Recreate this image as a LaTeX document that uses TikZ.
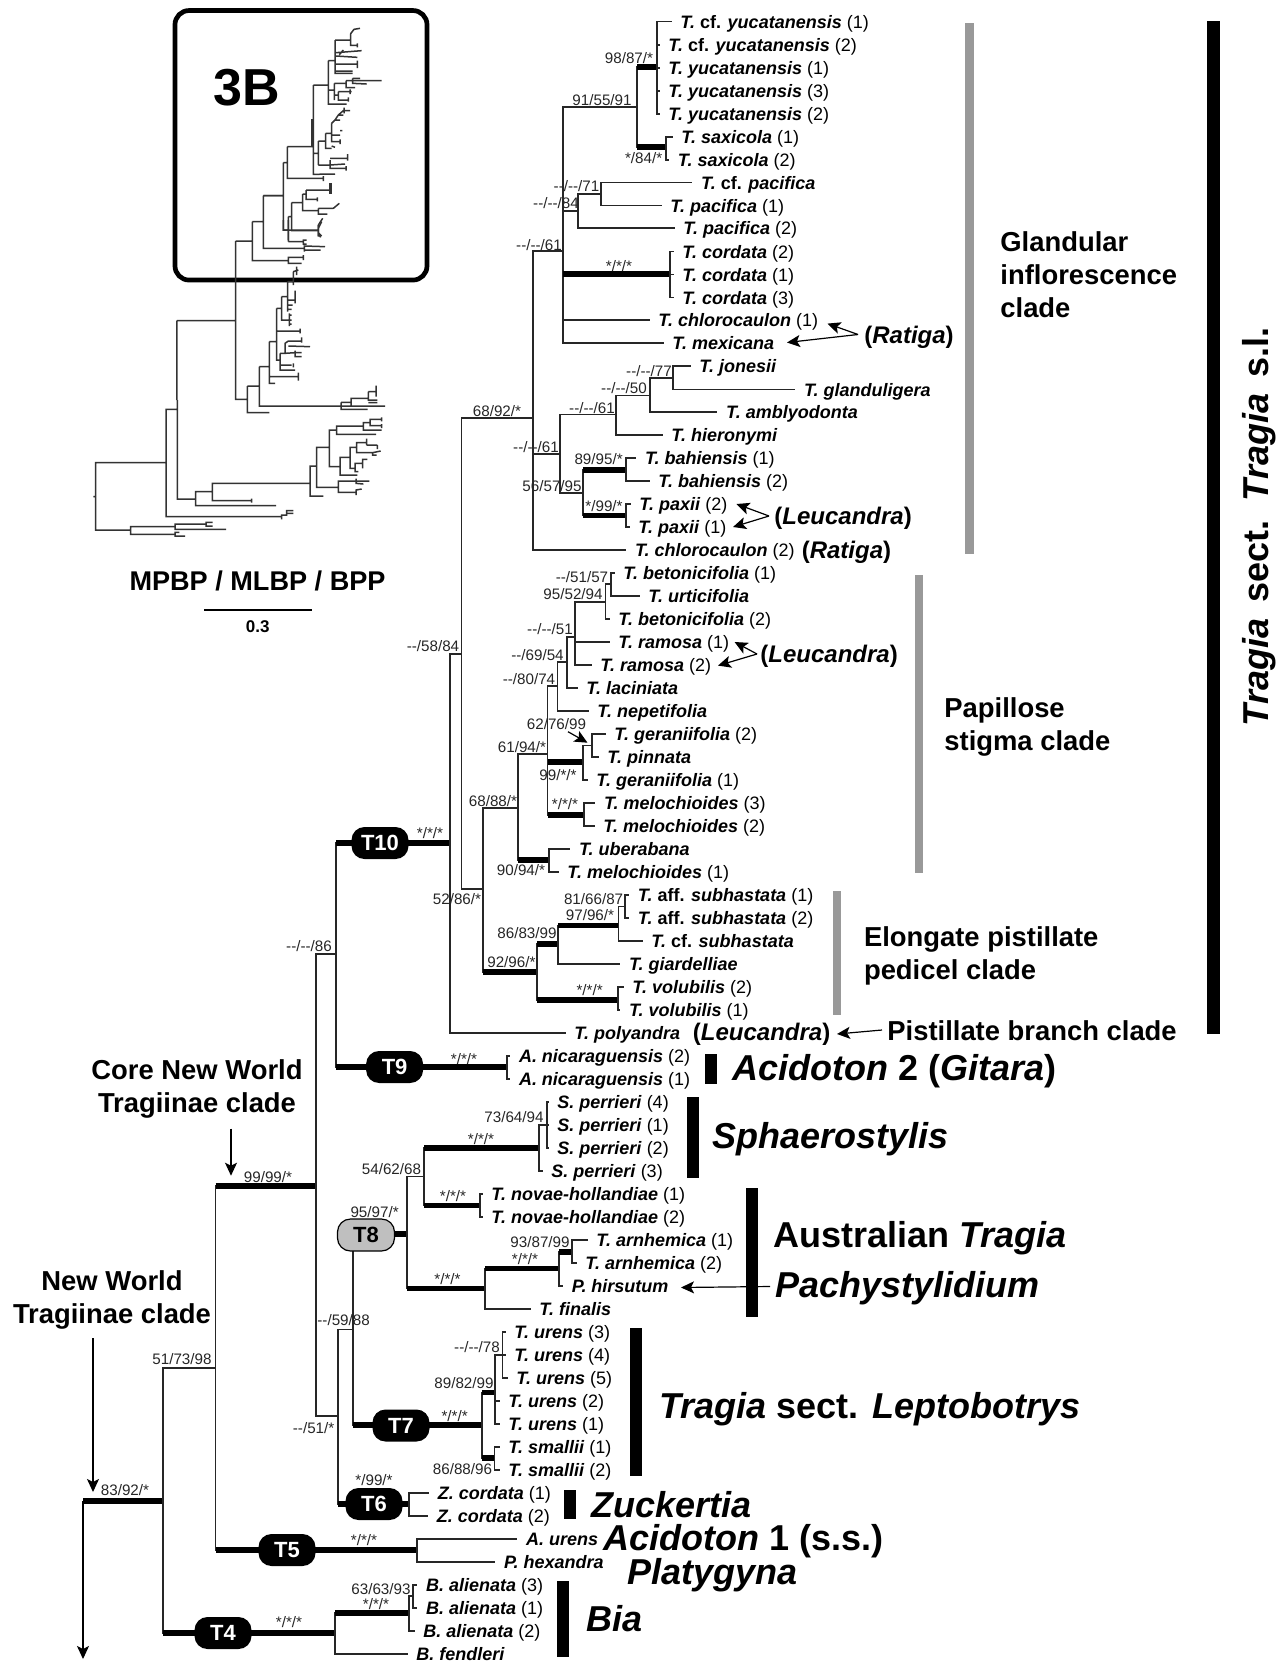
\documentclass[tikz,border=0pt]{standalone}
\usepackage{fontspec}
\setmainfont{Liberation Sans}
\usetikzlibrary{arrows.meta,positioning}
\newcommand{\tx}[1]{\textbf{\textit{#1}}}
\newcommand{\dd}{-{}-}
\newcommand{\thk}[2]{\draw[branch] (#1) -- (#1 |- #2); \draw[boldbranch] (#1 |- #2) -- (#2);}
\tikzset{
	branch/.style={line width=.7pt,black!85,line cap=rect,to path={|- (\tikztotarget)}},
	boldbranch/.style={line width=2.6pt,black},
	inset/.style={line width=.75pt,black!80},
	taxon/.style={anchor=west,inner xsep=4.5pt,inner ysep=0pt,text height=6.5pt,text depth=0pt,font=\fontsize{9}{10}\selectfont},
	supp/.style={inner sep=0pt,text height=5.5pt,text depth=0pt,text=black!85,font=\fontsize{7.6}{9}\selectfont},
	pill/.style={rounded corners=6.5pt,minimum width=28.5pt,minimum height=16pt,inner sep=0pt,fill=black,text=white,font=\bfseries\fontsize{11}{12}\selectfont},
	biglab/.style={anchor=west,inner sep=0pt,text height=11pt,text depth=0pt,font=\bfseries\fontsize{18}{20}\selectfont},
	genus/.style={anchor=west,inner sep=0pt,text height=8.6pt,text depth=0pt,font=\bfseries\fontsize{12}{14}\selectfont},
	clade/.style={inner sep=0pt,align=left,font=\bfseries\fontsize{13.7}{16.5}\selectfont},
	pointer/.style={-{Stealth[length=6.5pt,width=6pt,inset=1.5pt]},line width=.6pt,black}
}
\begin{document}
\begin{tikzpicture}[x=.5pt,y=-.5pt]
\useasboundingbox (0,0) rectangle (1282,1661);
% taxa
\node[taxon] (t01) at (671,21.5) {\tx{T.} \textbf{cf.} \tx{yucatanensis} (1)};
\node[taxon] (t02) at (659,45) {\tx{T.} \textbf{cf.} \tx{yucatanensis} (2)};
\node[taxon] (t03) at (659,68) {\tx{T. yucatanensis} (1)};
\node[taxon] (t04) at (659,91) {\tx{T. yucatanensis} (3)};
\node[taxon] (t05) at (659,114) {\tx{T. yucatanensis} (2)};
\node[taxon] (t06) at (672,137) {\tx{T. saxicola} (1)};
\node[taxon] (t07) at (668.5,160) {\tx{T. saxicola} (2)};
\node[taxon] (t08) at (691.7,182.5) {\tx{T.} \textbf{cf.} \tx{pacifica}};
\node[taxon] (t09) at (661,205.5) {\tx{T. pacifica} (1)};
\node[taxon] (t10) at (674,228) {\tx{T. pacifica} (2)};
\node[taxon] (t11) at (673,251.5) {\tx{T. cordata} (2)};
\node[taxon] (t12) at (673,274.5) {\tx{T. cordata} (1)};
\node[taxon] (t13) at (673,297.5) {\tx{T. cordata} (3)};
\node[taxon] (t14) at (649,320) {\tx{T. chlorocaulon} (1)};
\node[taxon] (t15) at (663,343) {\tx{T. mexicana}};
\node[taxon] (t16) at (690,366) {\tx{T. jonesii}};
\node[taxon] (t17) at (794.6,389.5) {\tx{T. glanduligera}};
\node[taxon] (t18) at (716.7,412) {\tx{T. amblyodonta}};
\node[taxon] (t19) at (662,435) {\tx{T. hieronymi}};
\node[taxon] (t20) at (635.6,458) {\tx{T. bahiensis} (1)};
\node[taxon] (t21) at (649,481) {\tx{T. bahiensis} (2)};
\node[taxon] (t22) at (630,504) {\tx{T. paxii} (2)};
\node[taxon] (t23) at (629,527) {\tx{T. paxii} (1)};
\node[taxon] (t24) at (625.6,550) {\tx{T. chlorocaulon} (2)};
\node[taxon] (t25) at (614,573) {\tx{T. betonicifolia} (1)};
\node[taxon] (t26) at (639,596) {\tx{T. urticifolia}};
\node[taxon] (t27) at (609,619) {\tx{T. betonicifolia} (2)};
\node[taxon] (t28) at (609,642) {\tx{T. ramosa} (1)};
\node[taxon] (t29) at (591,665) {\tx{T. ramosa} (2)};
\node[taxon] (t30) at (577,688) {\tx{T. laciniata}};
\node[taxon] (t31) at (588,711) {\tx{T. nepetifolia}};
\node[taxon] (t32) at (605,734) {\tx{T. geraniifolia} (2)};
\node[taxon] (t33) at (598,757) {\tx{T. pinnata}};
\node[taxon] (t34) at (587,780) {\tx{T. geraniifolia} (1)};
\node[taxon] (t35) at (594.6,803) {\tx{T. melochioides} (3)};
\node[taxon] (t36) at (594,826) {\tx{T. melochioides} (2)};
\node[taxon] (t37) at (569.6,849) {\tx{T. uberabana}};
\node[taxon] (t38) at (558,872) {\tx{T. melochioides} (1)};
\node[taxon] (t39) at (628.5,895) {\tx{T.} \textbf{aff.} \tx{subhastata} (1)};
\node[taxon] (t40) at (628.5,918) {\tx{T.} \textbf{aff.} \tx{subhastata} (2)};
\node[taxon] (t41) at (642,941) {\tx{T.} \textbf{cf.} \tx{subhastata}};
\node[taxon] (t42) at (619.6,964) {\tx{T. giardelliae}};
\node[taxon] (t43) at (623,987) {\tx{T. volubilis} (2)};
\node[taxon] (t44) at (619.6,1010) {\tx{T. volubilis} (1)};
\node[taxon] (t45) at (565,1033) {\tx{T. polyandra}};
\node[taxon] (t46) at (509.6,1056) {\tx{A. nicaraguensis} (2)};
\node[taxon] (t47) at (509.6,1079) {\tx{A. nicaraguensis} (1)};
\node[taxon] (t48) at (548,1102) {\tx{S. perrieri} (4)};
\node[taxon] (t49) at (548,1125) {\tx{S. perrieri} (1)};
\node[taxon] (t50) at (548,1148) {\tx{S. perrieri} (2)};
\node[taxon] (t51) at (542,1171) {\tx{S. perrieri} (3)};
\node[taxon] (t52) at (482,1194) {\tx{T. novae-hollandiae} (1)};
\node[taxon] (t53) at (482,1217) {\tx{T. novae-hollandiae} (2)};
\node[taxon] (t54) at (587,1240) {\tx{T. arnhemica} (1)};
\node[taxon] (t55) at (576,1263) {\tx{T. arnhemica} (2)};
\node[taxon] (t56) at (562.4,1286) {\tx{P. hirsutum}};
\node[taxon] (t57) at (530,1309) {\tx{T. finalis}};
\node[taxon] (t58) at (505,1332) {\tx{T. urens} (3)};
\node[taxon] (t59) at (505,1355) {\tx{T. urens} (4)};
\node[taxon] (t60) at (507,1378) {\tx{T. urens} (5)};
\node[taxon] (t61) at (499,1401) {\tx{T. urens} (2)};
\node[taxon] (t62) at (499,1424) {\tx{T. urens} (1)};
\node[taxon] (t63) at (499,1447) {\tx{T. smallii} (1)};
\node[taxon] (t64) at (499,1470) {\tx{T. smallii} (2)};
\node[taxon] (t65) at (428.5,1493) {\tx{Z. cordata} (1)};
\node[taxon] (t66) at (427.4,1516) {\tx{Z. cordata} (2)};
\node[taxon] (t67) at (516.7,1539) {\tx{A. urens}};
\node[taxon] (t68) at (494.6,1562) {\tx{P. hexandra}};
\node[taxon] (t69) at (416.7,1585) {\tx{B. alienata} (3)};
\node[taxon] (t70) at (416.7,1608) {\tx{B. alienata} (1)};
\node[taxon] (t71) at (414,1631) {\tx{B. alienata} (2)};
\node[taxon] (t72) at (407,1654) {\tx{B. fendleri}};
% internal branch points
\coordinate (nRoot) at (83,1501);
\coordinate (cDown) at (83,1659);
\coordinate (nOne) at (163,1501);
\coordinate (nWorld) at (215.7,1368);
\coordinate (nCore) at (316,1186);
\coordinate (nUp) at (336,954);
\coordinate (nTten) at (450,843);
\coordinate (nA) at (461.4,654);
\coordinate (nGland) at (533,418);
\coordinate (nPa) at (563,251);
\coordinate (nB91) at (637,107);
\coordinate (nYuc) at (657,67);
\coordinate (nSax) at (666,147);
\coordinate (nPac) at (578,211);
\coordinate (nPacb) at (601,194);
\coordinate (nCord) at (670,274);
\coordinate (nPb) at (560,454);
\coordinate (nJa) at (616,414.5);
\coordinate (nJb) at (650,395.6);
\coordinate (nJc) at (673,378);
\coordinate (nBP) at (583,493);
\coordinate (nBah) at (626,470);
\coordinate (nPax) at (626,515.6);
\coordinate (nB) at (483,889);
\coordinate (nPap) at (518,808);
\coordinate (nGa) at (547.5,754);
\coordinate (nGb) at (557.5,686);
\coordinate (nGc) at (567,662);
\coordinate (nGd) at (575,637);
\coordinate (nGe) at (605.7,602);
\coordinate (nGf) at (611,584);
\coordinate (nGer) at (583,762);
\coordinate (nGerb) at (592,745.7);
\coordinate (nMel) at (584,815);
\coordinate (nUb) at (549,860);
\coordinate (nEl) at (537,972);
\coordinate (nEa) at (558,944);
\coordinate (nEb) at (618.6,925.7);
\coordinate (nEc) at (625,906.7);
\coordinate (nVol) at (618,1000);
\coordinate (nTnine) at (507,1067);
\coordinate (nLow) at (338,1416);
\coordinate (nNext) at (353,1329.5);
\coordinate (nTeight) at (407,1234);
\coordinate (nAu) at (424,1176.6);
\coordinate (nSph) at (539,1148);
\coordinate (nSpb) at (547,1125);
\coordinate (nNov) at (480,1205.5);
\coordinate (nPch) at (485,1288.7);
\coordinate (nPcb) at (559,1268.5);
\coordinate (nArn) at (572,1252);
\coordinate (nTseven) at (482,1425);
\coordinate (nUr) at (495,1392.5);
\coordinate (nUrb) at (502.5,1355);
\coordinate (nSm) at (494.6,1458);
\coordinate (nTsix) at (409,1504);
\coordinate (nTfive) at (417,1550);
\coordinate (nTfour) at (335,1633);
\coordinate (nAl) at (409,1613);
\coordinate (nAlb) at (413,1596);
% branches
\thk{nRoot}{nOne}
\thk{nWorld}{nCore}
\thk{nWorld}{nTfive}
\thk{nOne}{nTfour}
\draw[branch] (nOne) edge (nWorld);
\draw[branch] (nCore) edge (nUp) edge (nLow);
\thk{nUp}{nTten}
\thk{nUp}{nTnine}
\draw[branch] (nTten) edge (nA) edge (t45.west);
\draw[branch] (nA) edge (nGland) edge (nB);
\draw[branch] (nGland) edge (nPa) edge (nPb) edge (t24.west);
\draw[branch] (nPa) edge (nB91) edge (nPac) edge (t14.west) edge (t15.west);
\thk{nPa}{nCord}
\thk{nB91}{nYuc}
\thk{nB91}{nSax}
\draw[branch] (nYuc) edge (t01.west) edge (t02.west) edge (t03.west) edge (t04.west) edge (t05.west);
\draw[branch] (nSax) edge (t06.west) edge (t07.west);
\draw[branch] (nPac) edge (nPacb) edge (t10.west);
\draw[branch] (nPacb) edge (t08.west) edge (t09.west);
\draw[branch] (nCord) edge (t11.west) edge (t12.west) edge (t13.west);
\draw[branch] (nPb) edge (nJa) edge (nBP);
\draw[branch] (nJa) edge (nJb) edge (t19.west);
\draw[branch] (nJb) edge (nJc) edge (t18.west);
\draw[branch] (nJc) edge (t16.west) edge (t17.west);
\thk{nBP}{nBah}
\thk{nBP}{nPax}
\draw[branch] (nBah) edge (t20.west) edge (t21.west);
\draw[branch] (nPax) edge (t22.west) edge (t23.west);
\draw[branch] (nB) edge (nPap);
\thk{nB}{nEl}
\draw[branch] (nPap) edge (nGa);
\thk{nPap}{nUb}
\draw[branch] (nGa) edge (nGb);
\thk{nGa}{nGer}
\thk{nGa}{nMel}
\draw[branch] (nGb) edge (nGc) edge (t31.west);
\draw[branch] (nGc) edge (nGd) edge (t30.west);
\draw[branch] (nGd) edge (nGe) edge (t28.west) edge (t29.west);
\draw[branch] (nGe) edge (nGf) edge (t27.west);
\draw[branch] (nGf) edge (t25.west) edge (t26.west);
\draw[branch] (nGer) edge (nGerb) edge (t34.west);
\draw[branch] (nGerb) edge (t32.west) edge (t33.west);
\draw[branch] (nMel) edge (t35.west) edge (t36.west);
\draw[branch] (nUb) edge (t37.west) edge (t38.west);
\thk{nEl}{nEa}
\thk{nEl}{nVol}
\thk{nEa}{nEb}
\draw[branch] (nEa) edge (t42.west);
\draw[branch] (nEb) edge (nEc) edge (t41.west);
\draw[branch] (nEc) edge (t39.west) edge (t40.west);
\draw[branch] (nVol) edge (t43.west) edge (t44.west);
\draw[branch] (nTnine) edge (t46.west) edge (t47.west);
\draw[branch] (nLow) edge (nNext);
\thk{nLow}{nTsix}
\thk{nNext}{nTeight}
\thk{nNext}{nTseven}
\draw[branch] (nTeight) edge (nAu);
\thk{nTeight}{nPch}
\thk{nAu}{nSph}
\thk{nAu}{nNov}
\draw[branch] (nSph) edge (nSpb) edge (t51.west);
\draw[branch] (nSpb) edge (t48.west) edge (t49.west) edge (t50.west);
\draw[branch] (nNov) edge (t52.west) edge (t53.west);
\thk{nPch}{nPcb}
\draw[branch] (nPch) edge (t57.west);
\thk{nPcb}{nArn}
\draw[branch] (nPcb) edge (t56.west);
\draw[branch] (nArn) edge (t54.west) edge (t55.west);
\thk{nTseven}{nUr}
\thk{nTseven}{nSm}
\draw[branch] (nUr) edge (nUrb) edge (t61.west) edge (t62.west);
\draw[branch] (nUrb) edge (t58.west) edge (t59.west) edge (t60.west);
\draw[branch] (nSm) edge (t63.west) edge (t64.west);
\draw[branch] (nTsix) edge (t65.west) edge (t66.west);
\draw[branch] (nTfive) edge (t67.west) edge (t68.west);
\thk{nTfour}{nAl}
\draw[branch] (nTfour) edge (t72.west);
\draw[branch] (nAl) edge (nAlb) edge (t71.west);
\draw[branch] (nAlb) edge (t69.west) edge (t70.west);
% clade pills
\node[pill] (pTten) at (380,843) {T10};
\node[pill] (pTnine) at (394.6,1067) {T9};
\node[pill,fill=black!25,draw=black,line width=.6pt,text=black] (pTeight) at (366,1235) {T8};
\node[pill] (pTseven) at (401,1425.5) {T7};
\node[pill] (pTsix) at (374,1504) {T6};
\node[pill] (pTfive) at (287,1550) {T5};
\node[pill] (pTfour) at (223,1633) {T4};
% support values
\node[supp] (s01) at (629,58) {98/87/*};
\node[supp] (s02) at (602,100) {91/55/91};
\node[supp] (s03) at (643.6,158) {*/84/*};
\node[supp] (s04) at (576.5,185.5) {\dd/\dd/71};
\node[supp] (s05) at (556,203) {\dd/\dd/84};
\node[supp] (s06) at (539,245) {\dd/\dd/61};
\node[supp] (s07) at (619,265.5) {*/*/*};
\node[supp] (s08) at (497,411) {68/92/*};
\node[supp] (s09) at (649,371) {\dd/\dd/77};
\node[supp] (s10) at (624,388) {\dd/\dd/50};
\node[supp] (s11) at (592,408) {\dd/\dd/61};
\node[supp] (s12) at (536,446.5) {\dd/\dd/61};
\node[supp] (s13) at (598.6,459) {89/95/*};
\node[supp] (s14) at (552,485.5) {56/57/95};
\node[supp] (s15) at (604,505.5) {*/99/*};
\node[supp] (s16) at (433,646) {\dd/58/84};
\node[supp] (s17) at (582,577) {\dd/51/57};
\node[supp] (s18) at (573,594) {95/52/94};
\node[supp] (s19) at (550,629) {\dd/\dd/51};
\node[supp] (s20) at (537.5,655) {\dd/69/54};
\node[supp] (s21) at (529,679) {\dd/80/74};
\node[supp] (s22) at (556.5,724) {62/76/99};
\node[supp] (s23) at (522,747) {61/94/*};
\node[supp] (s24) at (558,775) {99/*/*};
\node[supp] (s25) at (565,804) {*/*/*};
\node[supp] (s26) at (493,801) {68/88/*};
\node[supp] (s27) at (430,833) {*/*/*};
\node[supp] (s28) at (521,870) {90/94/*};
\node[supp] (s29) at (457,899) {52/86/*};
\node[supp] (s30) at (593.6,899) {81/66/87};
\node[supp] (s31) at (590,915) {97/96/*};
\node[supp] (s32) at (527,933) {86/83/99};
\node[supp] (s33) at (511.4,962) {92/96/*};
\node[supp] (s34) at (589.6,990) {*/*/*};
\node[supp] (s35) at (309,946) {\dd/\dd/86};
\node[supp] (s36) at (464,1058.6) {*/*/*};
\node[supp] (s37) at (514,1117) {73/64/94};
\node[supp] (s38) at (481,1139) {*/*/*};
\node[supp] (s39) at (391.5,1168.7) {54/62/68};
\node[supp] (s40) at (453,1196.4) {*/*/*};
\node[supp] (s41) at (374.6,1212) {95/97/*};
\node[supp] (s42) at (540,1242) {93/87/99};
\node[supp] (s43) at (525,1259) {*/*/*};
\node[supp] (s44) at (447.5,1279) {*/*/*};
\node[supp] (s45) at (343.6,1320) {\dd/59/88};
\node[supp] (s46) at (477,1347) {\dd/\dd/78};
\node[supp] (s47) at (464,1383) {89/82/99};
\node[supp] (s48) at (454.6,1416) {*/*/*};
\node[supp] (s49) at (313.6,1428) {\dd/51/*};
\node[supp] (s50) at (462.5,1469) {86/88/96};
\node[supp] (s51) at (374,1480) {*/99/*};
\node[supp] (s52) at (364,1540) {*/*/*};
\node[supp] (s53) at (381,1589) {63/63/93};
\node[supp] (s54) at (376,1604) {*/*/*};
\node[supp] (s55) at (289,1622) {*/*/*};
\node[supp] (s56) at (268,1177) {99/99/*};
\node[supp] (s57) at (182,1359) {51/73/98};
\node[supp] (s58) at (125,1490) {83/92/*};
% bars at the side
\fill[black!40] (965,23) rectangle (974,554);
\fill[black!40] (914.5,574.5) rectangle (923,873);
\fill[black!40] (832.6,891) rectangle (841,1015);
\fill[black] (1207.4,21.4) rectangle (1220,1033.5);
\fill[black] (704.8,1053.5) rectangle (716.6,1084);
\fill[black] (687,1096.5) rectangle (698.6,1178);
\fill[black] (745.7,1187.5) rectangle (757.6,1316.5);
\fill[black] (630,1328) rectangle (642,1475.6);
\fill[black] (563.6,1489.5) rectangle (575.7,1519);
\fill[black] (557,1580.6) rectangle (568.6,1657);
% names of the groups
\node[clade,anchor=west] (gGland) at (1000,274.5) {Glandular\\inflorescence\\clade};
\node[clade,anchor=west] (gPap) at (944,727) {Papillose\\stigma clade};
\node[clade,anchor=west] (gElon) at (863.6,956) {Elongate pistillate\\pedicel clade};
\node[clade,anchor=west,text height=10pt,text depth=0pt] (gBranch) at (887,1030) {Pistillate branch clade};
\node[clade,align=center] (gCore) at (197,1088.5) {Core New World\\Tragiinae clade};
\node[clade,align=center] (gWorld) at (112,1299.5) {New World\\Tragiinae clade};
\node[biglab] (lAcb) at (732,1069) {\textit{Acidoton} 2 (\textit{Gitara})};
\node[biglab] (lSph) at (712.5,1137.5) {\textit{Sphaerostylis}};
\node[biglab] (lAus) at (773,1236) {Australian \textit{Tragia}};
\node[biglab] (lPch) at (775,1286.5) {\textit{Pachystylidium}};
\node[biglab] (lLep) at (659,1407.5) {\textit{Tragia} sect. \textit{Leptobotrys}};
\node[biglab] (lZuc) at (591,1506.5) {\textit{Zuckertia}};
\node[biglab] (lAca) at (603,1539.5) {\textit{Acidoton} 1 (s.s.)};
\node[biglab] (lPla) at (627.5,1573) {\textit{Platygyna}};
\node[biglab] (lBia) at (585.7,1620) {\textit{Bia}};
\node[genus] (lRata) at (864,334.5) {(\textit{Ratiga})};
\node[genus] (lLeua) at (774,516) {(\textit{Leucandra})};
\node[genus] (lRatb) at (801.4,550) {(\textit{Ratiga})};
\node[genus] (lLeub) at (760,654) {(\textit{Leucandra})};
\node[genus] (lLeuc) at (692.5,1032) {(\textit{Leucandra})};
\node[inner sep=0pt,rotate=90,font=\bfseries\fontsize{18}{20}\selectfont] (lSect) at (1259,527) {\textit{Tragia}\, sect.\, \textit{Tragia}\, s.l.};
% arrows
\coordinate (aRata) at (827.5,323.6);
\coordinate (aRatb) at (787,342.5);
\coordinate (aLeua) at (736.5,504);
\coordinate (aLeub) at (733,527);
\coordinate (aLeuc) at (734.6,642);
\coordinate (aLeud) at (718,665.6);
\coordinate (aGer) at (587.5,742.7);
\coordinate (aGerb) at (568,731.7);
\coordinate (aPist) at (837,1034);
\coordinate (aPch) at (681,1287.5);
\coordinate (aCore) at (231,1175.7);
\coordinate (aCoreb) at (231,1128.6);
\coordinate (aWorld) at (93,1492);
\coordinate (aWorldb) at (93,1338);
\draw[pointer] ([xshift=-3pt]lRata.west) -- (aRata);
\draw[pointer] ([xshift=-3pt]lRata.west) -- (aRatb);
\draw[pointer] ([xshift=-2.5pt]lLeua.west) -- (aLeua);
\draw[pointer] ([xshift=-2.5pt]lLeua.west) -- (aLeub);
\draw[pointer] ([xshift=-1.5pt]lLeub.west) -- (aLeuc);
\draw[pointer] ([xshift=-1.5pt]lLeub.west) -- (aLeud);
\draw[pointer] (aGerb) -- (aGer);
\draw[pointer] ([xshift=-2.5pt]gBranch.west) -- (aPist);
\draw[pointer] ([xshift=-2.5pt]lPch.west) -- (aPch);
\draw[pointer] (aCoreb) -- (aCore);
\draw[pointer] (aWorldb) -- (aWorld);
\draw[pointer] (nRoot) -- (cDown);
% overview of the whole tree
\node[draw,line width=2.35pt,rounded corners=7pt,minimum width=126pt,minimum height=134.75pt,inner sep=0pt] (box3B) at (301,145.3) {};
\node[inner sep=0pt,anchor=west,font=\bfseries\fontsize{26}{28}\selectfont] (lab3B) at (212.7,88) {3B};
\node[inner sep=0pt,font=\bfseries\fontsize{13.55}{15}\selectfont] (lMP) at (257.5,581) {MPBP / MLBP / BPP};
\node[inner sep=0pt,font=\bfseries\fontsize{8.5}{10}\selectfont] (lScale) at (257.7,627) {0.3};
\draw[line width=1.3pt] (204,610) -- (311.7,610);
\begin{scope}[shift={(80,400)},x=.16667pt,y=-.16667pt]
\draw[inset] (258,188)--(47,188)--(47,390)--(152,390) (40,290)--(47,290)
 (292,28)--(258,28)--(258,350)--(605,350)
 (347,297)--(292,297)--(292,0)
 (397,275)--(347,275)--(347,317)--(588,317)
 (690,250)--(397,250)--(397,302)--(515,302) (515,296)--(515,308)
 (710,198)--(690,198)--(690,288)--(730,288)
 (748,142)--(710,142)--(710,262)--(775,262)
 (770,90)--(748,90)--(748,200)--(780,200)
 (850,78)--(770,78)--(770,103)--(888,103)
 (870,68)--(850,68)--(850,90)--(905,90)
 (905,58)--(870,58)--(870,77)--(905,77) (905,52)--(905,64) (905,72)--(905,84)
 (810,172)--(780,172)--(780,225)--(832,225)
 (830,142)--(810,142)--(810,205)--(825,205)
 (860,128)--(830,128)--(830,158)--(878,158)
 (860,116)--(860,135) (892,135)--(892,147) (860,135)--(892,135)
 (878,158)--(902,153) (878,158)--(878,165)--(890,165)
 (848,190)--(825,190)--(825,215)--(835,215)
 (862,178)--(848,178)--(848,205)
 (828,243)--(775,243)--(775,277)--(828,277)
 (868,243)--(828,243) (828,236)--(828,250)--(850,252)
 (845,267)--(828,270)--(828,285)
 (605,343)--(605,358) (605,345)--(620,345)--(620,332)--(640,332) (620,340)--(640,340)
 (285,380)--(152,380)--(152,403)--(285,403)
 (378,372)--(285,372)--(285,388)--(438,388)
 (398,367)--(378,367)--(378,378)--(398,378)
 (298,397)--(285,397)--(285,408)--(315,408);
\end{scope}
\begin{scope}[shift={(240,220)},x=.16667pt,y=-.16667pt]
\draw[inset] (-13,63)--(37,63) (-13,63)--(-13,538)--(22,538) (-189,302)--(-13,302) (-189,302)--(-189,540)
 (37,5)--(37,122)--(145,122) (37,5)--(70,5)
 (70,-73)--(70,85)--(193,85) (70,-73)--(130,-73)
 (255,80)--(193,78)--(193,95)--(193,90)--(242,90)
 (130,0)--(130,30)--(145,30) (145,0)--(145,65) (145,30)--(235,30) (235,15)--(235,48) (235,25)--(245,5) (235,38)--(245,48)
 (145,65)--(190,65) (200,60)--(190,60)--(190,72)--(200,72)
 (190,112)--(145,112)--(145,130)--(185,130) (190,105)--(190,120)
 (22,498)--(22,578)--(88,578)
 (22,498)--(58,498) (58,440)--(58,558)--(435,558)
 (58,440)--(88,440) (88,365)--(88,490)--(105,490)
 (88,470)--(175,470) (175,458)--(175,482)
 (88,365)--(110,365) (110,265)--(110,420)--(120,420) (120,400)--(120,450)--(165,450) (120,435)--(155,435)
 (110,265)--(125,265) (125,230)--(125,300)--(148,300) (125,230)--(143,230) (143,185)--(143,275)
 (143,185)--(160,185) (160,155)--(160,195) (160,155)--(175,150) (170,140)--(170,165)
 (143,240)--(165,240) (165,212)--(165,250) (143,255)--(158,255) (143,268)--(155,268)
 (148,280)--(148,318) (148,285)--(155,285) (148,300)--(155,300) (148,312)--(155,312)
 (110,333)--(180,333) (180,326)--(180,340)
 (120,400)--(135,400)--(135,370)--(145,363)--(185,363) (185,352)--(185,368) (145,378)--(210,380) (135,400)--(165,398)--(185,398) (165,392)--(165,410)--(185,410)
 (160,430)--(160,442)
 (303,547)--(303,568)--(383,568) (303,547)--(333,547)--(333,535)--(385,535) (333,535)--(333,558)--(435,558)
 (385,515)--(385,540)--(412,540) (385,515)--(408,515) (408,497)--(408,530) (385,548)--(412,548);
\end{scope}
\begin{scope}[shift={(280,40)},x=.16667pt,y=-.16667pt]
\draw[inset] (-50,467)--(10,467) (10,368)--(10,570)--(25,570)
 (10,368)--(22,368) (22,320)--(22,415)--(130,415) (130,408)--(130,423)
 (22,320)--(100,320) (100,135)--(100,403)--(165,402)
 (100,135)--(145,135) (145,62)--(145,192)--(200,192)
 (145,62)--(165,62) (165,0)--(165,100)--(218,100)
 (165,93)--(218,93)
 (165,72)--(232,72) (232,62)--(232,84)
 (168,48)--(232,52) (168,38)--(245,32) (178,44)--(190,30)
 (165,0)--(212,0) (212,-19)--(212,16)--(232,16) (212,-19)--(222,-32)--(240,-35) (232,10)--(232,22)
 (145,150)--(163,150) (163,130)--(163,180)
 (163,130)--(198,130) (198,122)--(198,143)--(225,143)
 (198,122)--(218,122) (218,115)--(218,130)--(260,132) (218,122)--(305,122) (218,115)--(240,115)
 (163,165)--(175,165) (175,155)--(175,180)--(205,180) (175,155)--(215,155) (205,172)--(205,185) (210,148)--(210,162)
 (100,340)--(115,340) (115,303)--(115,375)
 (115,303)--(137,303) (137,280)--(137,325)--(155,325) (155,318)--(165,322)
 (137,280)--(155,280) (155,250)--(155,305)--(180,305) (180,298)--(180,312) (155,285)--(180,285) (180,272)--(187,272)
 (155,250)--(165,240)--(175,225)--(190,212)--(210,212) (165,240)--(180,240) (175,225)--(190,225) (192,203)--(192,220)
 (115,375)--(150,375) (150,360)--(150,385)--(198,385) (150,375)--(195,372) (150,355)--(205,355) (203,342)--(203,362) (198,378)--(198,392)
 (25,530)--(25,600) (25,530)--(35,530) (35,488)--(35,572)--(115,572)
 (35,488)--(68,488) (68,462)--(68,512)--(115,512)
 (68,462)--(78,462) (78,450)--(78,478)--(112,478) (112,472)--(112,484)
 (78,450)--(152,450);
\draw[inset,line width=1.2pt] (152,430)--(152,462);
\draw[inset] (115,505)--(115,522)--(142,522) (115,505)--(160,505) (160,505)--(178,490)
 (115,555)--(115,590) (115,555)--(128,535) (115,580)--(122,592);
\draw[inset,line width=1.4pt] (98,237)--(98,320);
\end{scope}
\end{tikzpicture}
\end{document}
